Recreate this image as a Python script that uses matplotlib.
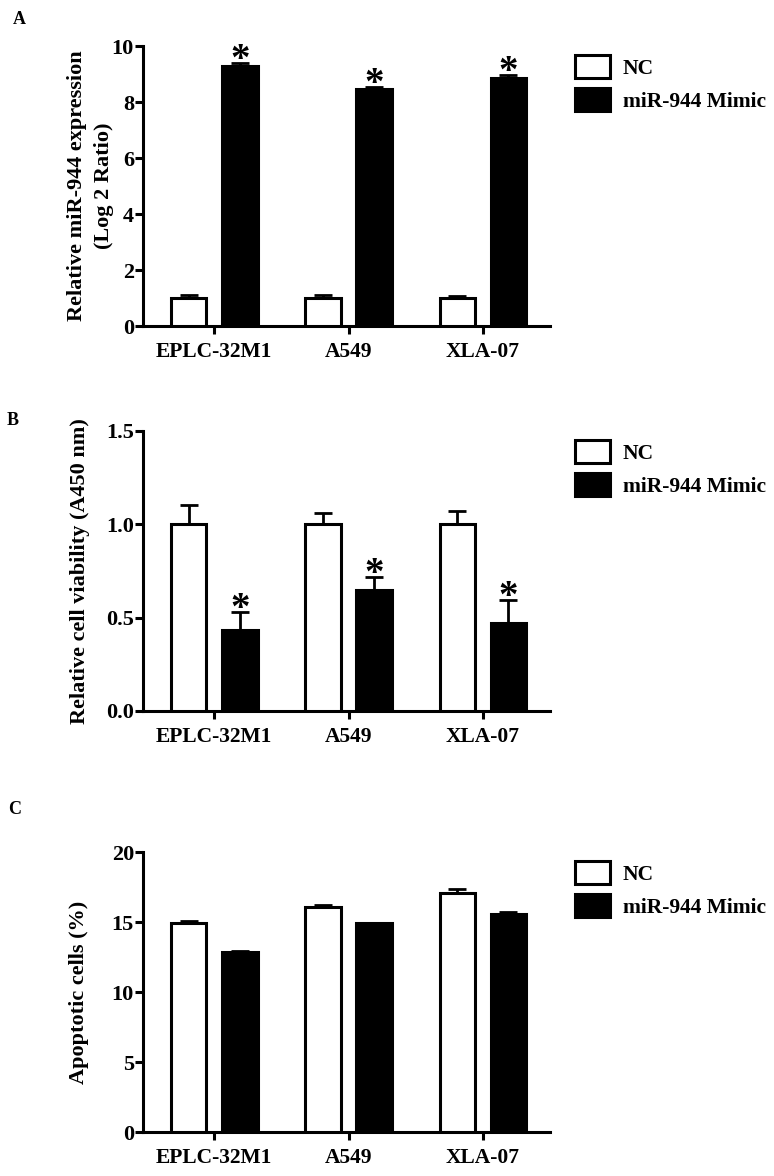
import matplotlib
matplotlib.use("Agg")
import matplotlib.pyplot as plt
from matplotlib.patches import Patch
import numpy as np

plt.rcParams['font.family'] = ['Liberation Serif', 'DejaVu Serif']
plt.rcParams['font.weight'] = 'bold'

cells = ["EPLC-32M1", "A549", "XLA-07"]
groups = ["NC", "miR-944 Mimic"]

# panel A - relative miR-944 expression (log2 ratio)
expr_nc = [1.0, 1.0, 1.0]
expr_nc_err = [0.1, 0.1, 0.08]
expr_mimic = [9.3, 8.47, 8.87]
expr_mimic_err = [0.1, 0.08, 0.1]

# panel B - relative cell viability (A450)
via_nc = [1.0, 1.0, 1.0]
via_nc_err = [0.105, 0.06, 0.072]
via_mimic = [0.435, 0.65, 0.47]
via_mimic_err = [0.095, 0.068, 0.125]

# panel C - apoptotic cells (%)
apo_nc = [14.95, 16.1, 17.05]
apo_nc_err = [0.15, 0.15, 0.3]
apo_mimic = [12.85, 14.9, 15.6]
apo_mimic_err = [0.1, 0.05, 0.15]

W, H = 774, 1176
fig = plt.figure(figsize=(W / 100, H / 100), dpi=100)

def panel(bottom_px, nc, nc_err, mim, mim_err, ylim, yticks, fmt, ylabel, label_x,
          stars, letter, letter_xy):
    ax = fig.add_axes([143 / W, 1 - bottom_px / H, 407 / W, 280 / H])
    x = np.arange(len(cells))
    off, bw = 0.19, 0.265
    ax.bar(x - off, nc, bw, color="white", edgecolor="black", linewidth=2.2, zorder=3)
    ax.bar(x + off, mim, bw, color="black", edgecolor="black", linewidth=2.2, zorder=3)
    ax.errorbar(x - off, nc, yerr=[np.zeros(3), nc_err], fmt="none", ecolor="black",
                elinewidth=2, capsize=6.5, capthick=2, zorder=2)
    ax.errorbar(x + off, mim, yerr=[np.zeros(3), mim_err], fmt="none", ecolor="black",
                elinewidth=2, capsize=6.5, capthick=2, zorder=2)
    if stars:
        for xi, v, e in zip(x + off, mim, mim_err):
            ax.annotate("*", xy=(xi, v + e), xytext=(0, -11.5), textcoords="offset points",
                        ha="center", va="bottom", fontsize=28, fontweight="bold")
    ax.set_xlim(-0.53, 2.5)
    ax.set_ylim(*ylim)
    ax.set_yticks(yticks)
    ax.set_yticklabels([fmt.format(t) for t in yticks])
    ax.set_xticks(x)
    ax.set_xticklabels(cells)
    for s in ["top", "right"]:
        ax.spines[s].set_visible(False)
    for s in ["left", "bottom"]:
        ax.spines[s].set_linewidth(2.2)
    ax.tick_params(axis="both", width=2.2, length=5.5)
    ax.tick_params(axis="x", labelsize=15.5, pad=6)
    ax.tick_params(axis="y", labelsize=16, pad=1)
    ax.set_ylabel(ylabel, fontsize=16, fontweight="bold", linespacing=1.45)
    ax.yaxis.set_label_coords(label_x, 0.5)
    handles = [Patch(facecolor="white", edgecolor="black", linewidth=2.2),
               Patch(facecolor="black", edgecolor="black", linewidth=2.2)]
    ax.legend(handles, groups, loc="upper left", bbox_to_anchor=(1.062, 0.968),
              frameon=False, borderaxespad=0, borderpad=0, handlelength=1.6,
              handleheight=1.25, handletextpad=0.6, labelspacing=0.45,
              prop={"size": 15.5, "weight": "bold"})
    fig.text(letter_xy[0] / W, 1 - letter_xy[1] / H, letter, fontsize=13,
             fontweight="bold", va="center")
    return ax

panel(326, expr_nc, expr_nc_err, expr_mimic, expr_mimic_err, (0, 10), [0, 2, 4, 6, 8, 10],
      "{:g}", "Relative miR-944 expression\n(Log 2 Ratio)", -0.072, True, "A", (13, 20))
panel(711, via_nc, via_nc_err, via_mimic, via_mimic_err, (0, 1.5), [0.0, 0.5, 1.0, 1.5],
      "{:.1f}", "Relative cell viability (A450 nm)", -0.13, True, "B", (7, 420))
panel(1132, apo_nc, apo_nc_err, apo_mimic, apo_mimic_err, (0, 20), [0, 5, 10, 15, 20],
      "{:g}", "Apoptotic cells (%)", -0.132, False, "C", (8, 809))

fig.savefig("out.png", dpi=100)
